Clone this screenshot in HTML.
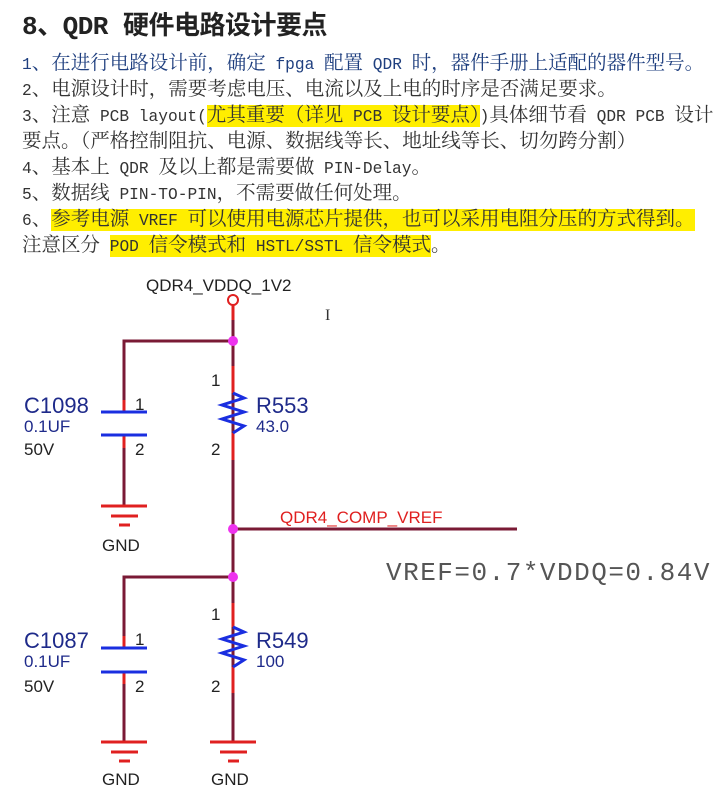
<!DOCTYPE html>
<html><head><meta charset="utf-8"><style>
body{margin:0;width:721px;height:797px;background:#fff;overflow:hidden;position:relative}
.t{position:absolute;left:22px;top:5px;font:bold 26px "Liberation Mono","Noto Sans CJK SC",sans-serif;color:#222;white-space:nowrap;letter-spacing:-0.5px}
.l{position:absolute;left:22px;font:19.5px/24px "Liberation Mono","Noto Serif CJK SC",monospace;color:#333;white-space:nowrap}
.l i{font-style:normal;font-size:16.2px;letter-spacing:0}
.h{background:#ffee00}
svg{position:absolute;left:0;top:0}
</style></head><body>
<div class="t">8、QDR 硬件电路设计要点</div>
<div class="l" style="top:52px"><span style="color:#1f3f7f"><i>1</i>、在进行电路设计前，确定<i> fpga </i>配置<i> QDR </i>时，器件手册上适配的器件型号。</span></div>
<div class="l" style="top:78px"><i>2</i>、电源设计时，需要考虑电压、电流以及上电的时序是否满足要求。</div>
<div class="l" style="top:104px"><i>3</i>、注意<i> PCB layout(</i><span class="h">尤其重要（详见<i> PCB </i>设计要点）</span><i>)</i>具体细节看<i> QDR PCB </i>设计</div>
<div class="l" style="top:130px">要点。（严格控制阻抗、电源、数据线等长、地址线等长、切勿跨分割）</div>
<div class="l" style="top:156px"><i>4</i>、基本上<i> QDR </i>及以上都是需要做<i> PIN-Delay</i>。</div>
<div class="l" style="top:182px"><i>5</i>、数据线<i> PIN-TO-PIN</i>，不需要做任何处理。</div>
<div class="l" style="top:208px"><i>6</i>、<span class="h">参考电源<i> VREF </i>可以使用电源芯片提供，也可以采用电阻分压的方式得到。</span></div>
<div class="l" style="top:234px">注意区分<i> </i><span class="h"><i>POD </i>信令模式和<i> HSTL/SSTL </i>信令模式</span>。</div>
<svg width="721" height="797" font-family="Liberation Sans, sans-serif">
<g stroke="#7a1a35" stroke-width="3" fill="none">
<path d="M233 304V529M124 412V341H233M233 529H517M233 529V742M124 648V577H233M124 435V506M124 672V742"/>
</g>
<g stroke="#e02020" stroke-width="3" fill="none">
<path d="M233 304V320M233 366V393M233 433V460M124 400V412M124 435V448M233 603V627M233 667V693M124 636V648M124 672V684"/>
<path d="M101 506H147M111 516H138M119 525H130M101 742H147M111 752H138M119 761H130M210 742H256M220 752H247M228 761H239"/>
</g>
<circle cx="233" cy="300" r="5" fill="#fff" stroke="#e02020" stroke-width="2"/>
<g fill="#ee33ee"><circle cx="233" cy="341" r="5"/><circle cx="233" cy="529" r="5"/><circle cx="233" cy="577" r="5"/></g>
<g stroke="#1a2ee0" stroke-width="3" fill="none">
<path d="M101 412H147M101 435H147M101 648H147M101 672H147"/>
<path d="M233 393L244 398L222 405L244 412L222 419L244 426L233 433"/>
<path d="M233 627L244 632L222 639L244 646L222 653L244 660L233 667"/>
</g>
<g fill="#222" font-size="17">
<text x="146" y="291">QDR4_VDDQ_1V2</text>
<text x="135" y="410">1</text><text x="135" y="455">2</text>
<text x="211" y="386">1</text><text x="211" y="455">2</text>
<text x="135" y="645">1</text><text x="135" y="692">2</text>
<text x="211" y="620">1</text><text x="211" y="692">2</text>
<text x="24" y="455">50V</text><text x="24" y="692">50V</text>
<text x="102" y="551">GND</text><text x="102" y="785">GND</text><text x="211" y="785">GND</text>
</g>
<g fill="#1e2a8a">
<text x="24" y="413" font-size="22">C1098</text><text x="24" y="432" font-size="17">0.1UF</text>
<text x="256" y="413" font-size="22">R553</text><text x="256" y="432" font-size="17">43.0</text>
<text x="24" y="648" font-size="22">C1087</text><text x="24" y="667" font-size="17">0.1UF</text>
<text x="256" y="648" font-size="22">R549</text><text x="256" y="667" font-size="17">100</text>
</g>
<text x="280" y="523" fill="#e02020" font-size="17">QDR4_COMP_VREF</text>
<text x="386" y="580" fill="#555" font-size="26" letter-spacing="1.5" font-family="Liberation Mono, monospace">VREF=0.7*VDDQ=0.84V</text>
<text x="325" y="320" fill="#333" font-size="16" font-family="Liberation Serif, serif">I</text>
</svg>
</body></html>
